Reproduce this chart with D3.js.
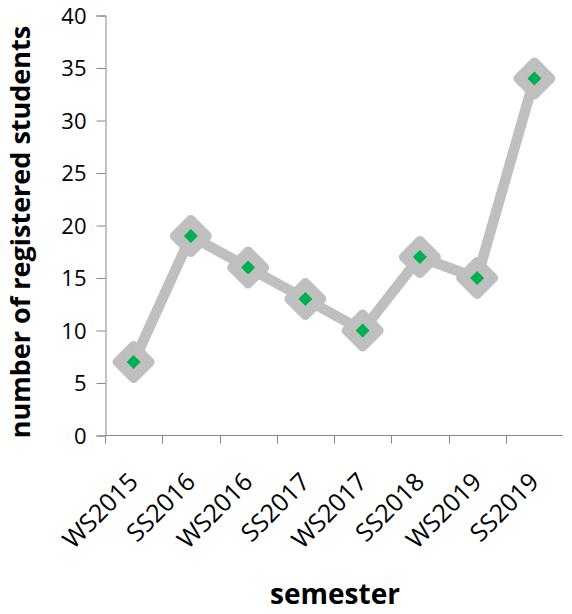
<!DOCTYPE html>
<html>
<head>
<meta charset="utf-8">
<script src="https://cdn.jsdelivr.net/npm/d3@7"></script>
<style>
  body { margin: 0; background: #fff; }
  text { font-family: "Open Sans", sans-serif; fill: #000; }
</style>
</head>
<body>
<script>
// data
const semesters = ["WS2015", "SS2016", "WS2016", "SS2017", "WS2017", "SS2018", "WS2019", "SS2019"];
const students = [7, 19, 16, 13, 10, 17, 15, 34];
const yTicks = [0, 5, 10, 15, 20, 25, 30, 35, 40];

const W = 572, H = 614;

const svg = d3.select("body")
  .append("svg")
  .attr("width", W)
  .attr("height", H);

const x = d3.scaleBand()
  .domain(semesters)
  .range([105, 563]);

const y = d3.scaleLinear()
  .domain([0, 40])
  .range([435.5, 15.5]);

const axisColor = "#868686";

// y axis
const yAxis = svg.append("g")
  .attr("transform", "translate(105.5,0)")
  .call(d3.axisLeft(y).tickValues(yTicks).tickSize(9).tickPadding(10));
yAxis.select(".domain").attr("stroke", axisColor);
yAxis.selectAll(".tick line").attr("stroke", axisColor);
yAxis.selectAll(".tick text")
  .attr("font-size", 22)
  .attr("font-family", "Open Sans, sans-serif")
  .attr("dy", "0.36em");

// x axis - ticks on band edges, like excel
const xAxisG = svg.append("g")
  .attr("transform", "translate(0,435.5)");
xAxisG.append("line")
  .attr("x1", 105).attr("x2", 563)
  .attr("stroke", axisColor);
xAxisG.selectAll("line.tk")
  .data(semesters)
  .enter().append("line")
  .attr("class", "tk")
  .attr("x1", d => Math.round(x(d)) + 0.5)
  .attr("x2", d => Math.round(x(d)) + 0.5)
  .attr("y1", 0).attr("y2", 8)
  .attr("stroke", axisColor);
xAxisG.selectAll("text")
  .data(semesters)
  .enter().append("text")
  .attr("transform", d => "translate(" + (x(d) + x.bandwidth() / 2 + 6) + ",48) rotate(-45)")
  .attr("text-anchor", "end")
  .attr("font-size", 25)
  .text(d => d);

// axis titles
svg.append("text")
  .attr("transform", "translate(30,232) rotate(-90)")
  .attr("text-anchor", "middle")
  .attr("font-size", 27)
  .attr("font-weight", "bold")
  .text("number of registered students");

svg.append("text")
  .attr("x", 335)
  .attr("y", 604)
  .attr("text-anchor", "middle")
  .attr("font-size", 28)
  .attr("font-weight", "bold")
  .text("semester");

const cx = d => x(d) + x.bandwidth() / 2;

// line
const line = d3.line()
  .x((d, i) => cx(semesters[i]))
  .y(d => y(d));

svg.append("path")
  .datum(students)
  .attr("fill", "none")
  .attr("stroke", "#BFBFBF")
  .attr("stroke-width", 10.5)
  .attr("stroke-linejoin", "round")
  .attr("d", line);

// markers
const diamond = r => `M0,${-r}L${r},0L0,${r}L${-r},0Z`;

const pts = svg.selectAll("g.pt")
  .data(students)
  .enter().append("g")
  .attr("class", "pt")
  .attr("transform", (d, i) => `translate(${cx(semesters[i])},${y(d)})`);

pts.append("path")
  .attr("d", diamond(16.5))
  .attr("fill", "#BFBFBF")
  .attr("stroke", "#BFBFBF")
  .attr("stroke-width", 9)
  .attr("stroke-linejoin", "round");

pts.append("path")
  .attr("d", diamond(7))
  .attr("fill", "#00B050");
</script>
</body>
</html>
